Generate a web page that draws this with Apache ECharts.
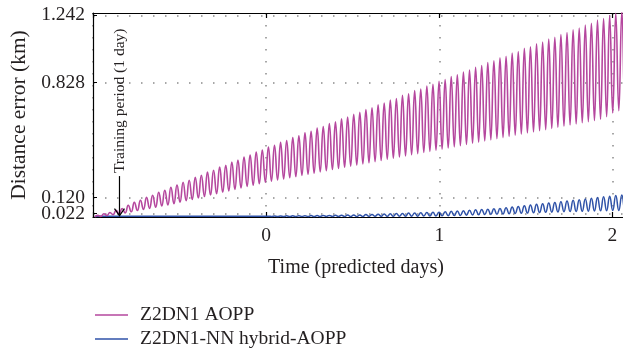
<!DOCTYPE html>
<html><head><meta charset="utf-8">
<script src="https://cdn.jsdelivr.net/npm/echarts@6/dist/echarts.min.js"></script>
<style>html,body{margin:0;padding:0;background:#fff}#c{width:623px;height:352px}</style>
</head><body><div id="c"></div>
<script>
const seriesNames = ['Z2DN1 AOPP', 'Z2DN1-NN hybrid-AOPP'];
const xTickDays = [0, 1, 2];
const yTickValues = [0.022, 0.120, 0.828, 1.242];
const xTitle = 'Time (predicted days)';
const yTitle = 'Distance error (km)';
const trainingLabel = 'Training period (1 day)';
const trainingMarkDay = -0.847;
const trainingArrowFrom = 0.252;
const trainingArrowTo = 0.008;

// samples at successive troughs / peaks (half an orbit apart)
const firstSampleDay = -0.99;
const halfPeriodDays = 0.0176;

const aoppError = [
  0.000,0.010,0.004,0.020,0.009,0.028,0.014,0.041,0.019,0.052,
  0.025,0.072,0.032,0.090,0.040,0.103,0.046,0.121,0.053,0.134,
  0.060,0.152,0.068,0.165,0.074,0.183,0.082,0.196,0.091,0.214,
  0.100,0.226,0.108,0.245,0.117,0.257,0.126,0.276,0.135,0.288,
  0.143,0.307,0.152,0.319,0.161,0.338,0.170,0.350,0.179,0.369,
  0.188,0.381,0.196,0.400,0.205,0.412,0.214,0.430,0.221,0.442,
  0.228,0.460,0.235,0.471,0.242,0.489,0.249,0.500,0.256,0.518,
  0.263,0.528,0.270,0.547,0.278,0.557,0.285,0.576,0.292,0.586,
  0.299,0.605,0.306,0.615,0.313,0.633,0.320,0.644,0.327,0.662,
  0.334,0.673,0.341,0.691,0.348,0.702,0.355,0.720,0.362,0.730,
  0.369,0.749,0.376,0.759,0.383,0.778,0.390,0.788,0.397,0.807,
  0.404,0.817,0.411,0.836,0.418,0.846,0.425,0.864,0.432,0.875,
  0.439,0.893,0.446,0.904,0.454,0.922,0.461,0.933,0.468,0.951,
  0.475,0.961,0.482,0.980,0.489,0.990,0.496,1.009,0.503,1.019,
  0.510,1.038,0.517,1.048,0.524,1.066,0.531,1.077,0.538,1.095,
  0.545,1.106,0.552,1.124,0.559,1.135,0.566,1.153,0.573,1.163,
  0.580,1.182,0.587,1.192,0.594,1.212,0.601,1.222,0.618,1.240,
  0.640,1.254,0.655,1.268,0.668,1.283
];

const hybridError = [
  0.003,0.004,0.004,0.005,0.004,0.005,0.004,0.005,0.004,0.005,
  0.004,0.005,0.004,0.005,0.004,0.005,0.004,0.005,0.004,0.005,
  0.004,0.005,0.004,0.005,0.004,0.005,0.004,0.005,0.004,0.005,
  0.004,0.005,0.004,0.005,0.004,0.005,0.004,0.005,0.004,0.005,
  0.004,0.005,0.004,0.005,0.004,0.005,0.004,0.005,0.004,0.005,
  0.004,0.005,0.004,0.005,0.004,0.005,0.004,0.005,0.003,0.006,
  0.003,0.006,0.003,0.007,0.003,0.007,0.003,0.008,0.003,0.008,
  0.003,0.009,0.003,0.009,0.003,0.010,0.003,0.010,0.003,0.011,
  0.003,0.011,0.003,0.012,0.003,0.012,0.003,0.013,0.003,0.015,
  0.004,0.016,0.004,0.017,0.004,0.019,0.004,0.020,0.004,0.021,
  0.005,0.022,0.005,0.024,0.005,0.025,0.005,0.026,0.006,0.027,
  0.006,0.029,0.006,0.030,0.007,0.032,0.008,0.035,0.009,0.037,
  0.010,0.039,0.011,0.041,0.013,0.044,0.014,0.046,0.015,0.048,
  0.016,0.051,0.017,0.053,0.019,0.057,0.020,0.061,0.022,0.065,
  0.023,0.070,0.024,0.074,0.026,0.078,0.027,0.082,0.029,0.086,
  0.030,0.090,0.031,0.094,0.033,0.099,0.034,0.103,0.034,0.106,
  0.035,0.111,0.036,0.116,0.037,0.120,0.038,0.124,0.039,0.128,
  0.040,0.132,0.040,0.135,0.041,0.136
];

const sampleDays = aoppError.map((_, i) => +(firstSampleDay + i * halfPeriodDays).toFixed(4));
// the 0.120 label sits too close to 0.022 for one axis' overlap check, so it lives on a twin axis
const yTicksMain = yTickValues.filter((_, i) => i !== 1);
const yTicksTwin = [yTickValues[1]];
const FONT = '"Liberation Serif", "DejaVu Serif", serif';
const TXT = '#231f20';
const dotted = { type: [1.5, 10.5], color: '#8a8a8a', width: 1.5 };
const yLabelStyle = { formatter: v => v.toFixed(3), fontFamily: FONT, fontSize: 19.5, color: TXT, margin: 8, showMinLabel: true, showMaxLabel: true, hideOverlap: false };

const chart = echarts.init(document.getElementById('c'), null, { renderer: 'canvas' });
chart.setOption({
  animation: false,
  backgroundColor: '#fff',
  grid: { left: 93, top: 13, width: 554, height: 204, outerBoundsMode: 'none', containLabel: false },
  xAxis: [{
    type: 'value', min: -1, max: 2.2, interval: 1, position: 'bottom',
    axisLine: { onZero: false, lineStyle: { color: '#000', width: 1.2 } },
    axisTick: { inside: true, length: 5, lineStyle: { color: '#000', width: 1.2 } },
    axisLabel: { formatter: v => xTickDays.includes(v) ? String(v) : '', fontFamily: FONT, fontSize: 19.5, color: TXT, margin: 9 },
    splitLine: { show: true, lineStyle: dotted },
    name: xTitle, nameLocation: 'middle', nameGap: 41,
    nameTextStyle: { fontFamily: FONT, fontSize: 20, color: TXT, padding: [0, 28, 0, 0] }
  }, {
    type: 'value', min: -1, max: 2.2, interval: 1, position: 'top',
    axisLine: { show: true, onZero: false, lineStyle: { color: '#000', width: 1.2 } },
    axisTick: { show: true, inside: true, length: 5, lineStyle: { color: '#000', width: 1.2 } },
    axisLabel: { show: false }, splitLine: { show: false }
  }],
  yAxis: [{
    type: 'value', min: 0, max: 1.256, position: 'left',
    axisLine: { show: true, onZero: false, lineStyle: { color: '#000', width: 1.2 } },
    axisTick: { show: true, inside: true, length: 4, customValues: yTicksMain, lineStyle: { color: '#000' } },
    axisLabel: Object.assign({ customValues: yTicksMain }, yLabelStyle),
    splitLine: { show: true, lineStyle: dotted },
    name: yTitle, nameLocation: 'middle', nameGap: 63,
    nameTextStyle: { fontFamily: FONT, fontSize: 21.5, color: TXT }
  }, {
    type: 'value', min: 0, max: 1.256, position: 'left', offset: 0,
    axisLine: { show: false, onZero: false },
    axisTick: { show: true, inside: true, length: 4, customValues: yTicksTwin, lineStyle: { color: '#000' } },
    axisLabel: Object.assign({ customValues: yTicksTwin }, yLabelStyle),
    splitLine: { show: true, lineStyle: dotted }
  }],
  legend: {
    data: seriesNames, orient: 'vertical', left: 95, top: 305, padding: 0,
    icon: 'rect', itemWidth: 33, itemHeight: 1.5, itemGap: 4,
    textStyle: { fontFamily: FONT, fontSize: 19.5, lineHeight: 18, color: TXT, padding: [0, 0, 0, 7] }
  },
  series: [{
    name: seriesNames[0], type: 'line', symbol: 'none', smooth: true, z: 3,
    color: '#b5479e', lineStyle: { width: 1.6, color: '#b5479e' },
    data: sampleDays.map((d, i) => [d, aoppError[i]])
  }, {
    name: seriesNames[1], type: 'line', symbol: 'none', smooth: true, z: 2,
    color: '#2f52a8', lineStyle: { width: 1.5, color: '#2f52a8' },
    data: sampleDays.map((d, i) => [d, hybridError[i]])
  }]
});

const tip = chart.convertToPixel({ gridIndex: 0 }, [trainingMarkDay, trainingArrowTo]);
const tail = chart.convertToPixel({ gridIndex: 0 }, [trainingMarkDay, trainingArrowFrom]);
chart.setOption({
  graphic: [
    { type: 'line', z: 10, shape: { x1: tail[0], y1: tail[1], x2: tip[0], y2: tip[1] }, style: { stroke: '#000', lineWidth: 1.2 } },
    { type: 'polyline', z: 10, shape: { points: [[tip[0] - 5, tip[1] - 7], [tip[0], tip[1]], [tip[0] + 5, tip[1] - 7]] }, style: { stroke: '#000', lineWidth: 1.2, fill: null } },
    { type: 'text', z: 10, x: tail[0], y: tail[1] - 3, rotation: Math.PI / 2,
      style: { text: trainingLabel, font: '15.5px "Liberation Serif"', fill: TXT, align: 'left', verticalAlign: 'middle' } }
  ]
});
</script></body></html>
